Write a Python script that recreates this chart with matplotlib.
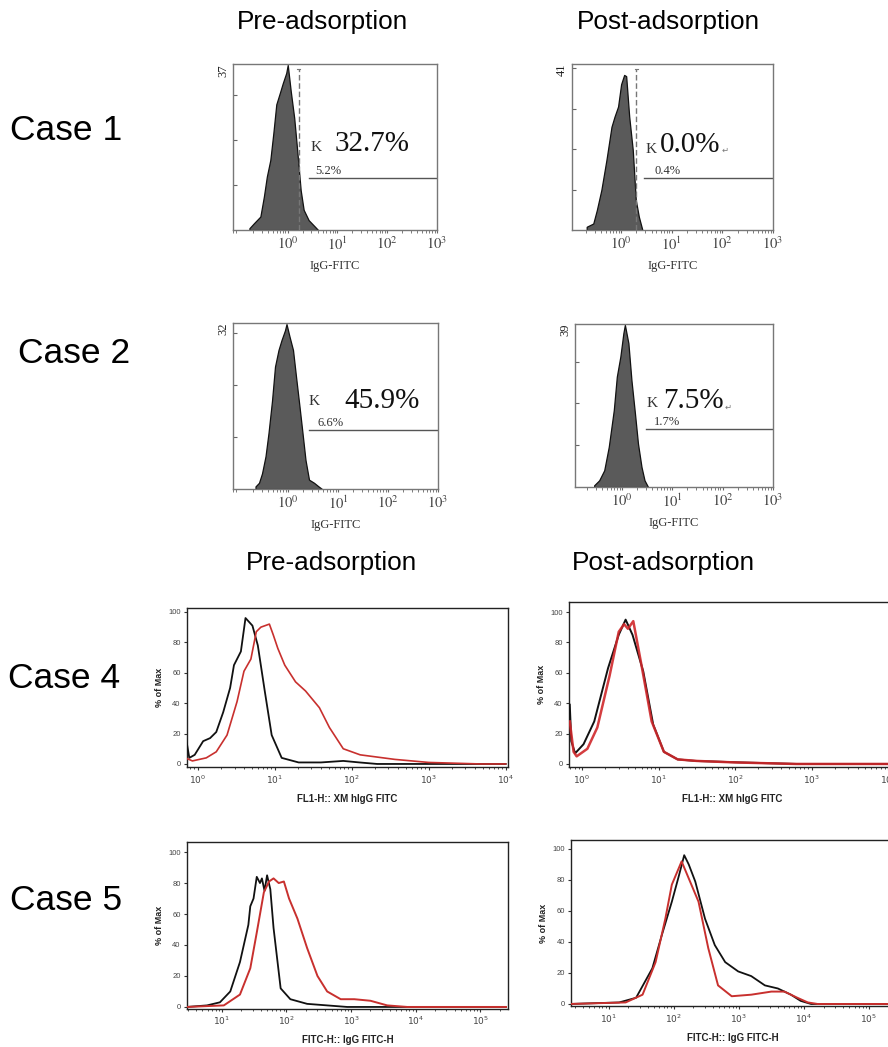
import numpy as np
import matplotlib
matplotlib.use("Agg")
import matplotlib.pyplot as plt
from matplotlib.ticker import LogLocator, NullFormatter

# ---------------- data ----------------
# Top histograms: log10(fluorescence) vs counts
c1_pre_logx = [-0.77, -0.68, -0.55, -0.48, -0.42, -0.35, -0.29, -0.23, -0.16, -0.10, -0.03, 0.00, 0.06, 0.13, 0.19, 0.26, 0.32, 0.42, 0.55, 0.61]
c1_pre_cnt = [0.4, 1.5, 3.0, 7.4, 11.9, 15.6, 21.5, 28.0, 30.5, 32.7, 35.0, 36.8, 31.0, 25.0, 17.8, 8.9, 4.5, 2.2, 0.7, 0.0]
c1_post_logx = [-0.68, -0.55, -0.48, -0.39, -0.29, -0.19, -0.13, -0.06, 0.00, 0.06, 0.10, 0.16, 0.23, 0.29, 0.35, 0.42]
c1_post_cnt = [0.8, 1.6, 4.9, 9.9, 17.3, 25.5, 28.0, 30.5, 36.0, 38.3, 38.0, 28.0, 19.8, 7.4, 3.3, 0.0]
c2_pre_logx = [-0.65, -0.58, -0.52, -0.45, -0.39, -0.32, -0.26, -0.19, -0.13, -0.06, -0.03, 0.03, 0.10, 0.16, 0.23, 0.29, 0.35, 0.42, 0.52, 0.61, 0.68]
c2_pre_cnt = [0.5, 1.2, 3.0, 6.3, 10.8, 17.0, 23.6, 26.8, 28.7, 30.6, 31.8, 29.4, 26.8, 21.7, 15.9, 10.8, 5.6, 1.8, 1.2, 0.5, 0.0]
c2_post_logx = [-0.55, -0.45, -0.35, -0.26, -0.16, -0.10, -0.03, 0.03, 0.06, 0.13, 0.19, 0.26, 0.32, 0.39, 0.45, 0.52]
c2_post_cnt = [0.4, 1.6, 4.0, 9.6, 18.4, 26.4, 31.2, 36.8, 38.8, 34.4, 25.6, 17.6, 10.4, 4.8, 1.6, 0.0]

top_ymax = [37, 41, 32, 39]
top_gate_logx = [0.22, 0.30, None, None]        # dashed cut-off line
top_bar_logx = [0.42, 0.45, 0.42, 0.48]         # start of marker bar
top_bar_y = [11.7, 12.9, 11.4, 13.8]
top_small_pct = ["5.2%", "0.4%", "6.6%", "1.7%"]
top_big_pct = ["32.7%", "0.0%", "45.9%", "7.5%"]

# Bottom overlay histograms (% of Max)
c4_pre_black_x = [-0.16, -0.11, -0.04, 0.07, 0.16, 0.24, 0.33, 0.42, 0.47, 0.56, 0.62, 0.71, 0.78, 0.87, 0.96, 1.09, 1.31, 1.60, 1.89, 2.10, 2.33, 4.0]
c4_pre_black_y = [19, 4, 6, 15, 17, 21, 34, 50, 65, 74, 96, 91, 78, 48, 19, 4, 1, 1, 2, 1, 0, 0]
c4_pre_red_x = [-0.16, -0.07, 0.11, 0.24, 0.38, 0.51, 0.60, 0.69, 0.76, 0.82, 0.93, 0.98, 1.04, 1.13, 1.27, 1.40, 1.58, 1.71, 1.89, 2.11, 2.56, 3.00, 3.67, 4.0]
c4_pre_red_y = [4, 2, 4, 8, 19, 41, 61, 69, 87, 90, 92, 85, 76, 65, 54, 48, 37, 24, 10, 6, 3, 1, 0, 0]
c4_post_black_x = [-0.16, -0.14, -0.09, 0.02, 0.16, 0.34, 0.48, 0.57, 0.66, 0.80, 0.93, 1.07, 1.25, 1.48, 2.07, 2.80, 4.1]
c4_post_black_y = [39, 15, 7, 13, 28, 63, 85, 95, 85, 61, 26, 8, 3, 2, 1, 0, 0]
c4_post_red_x = [-0.16, -0.11, -0.07, 0.07, 0.20, 0.36, 0.48, 0.55, 0.60, 0.67, 0.77, 0.91, 1.07, 1.25, 1.50, 2.00, 2.80, 4.1]
c4_post_red_y = [28, 8, 5, 10, 24, 58, 87, 92, 89, 94, 67, 28, 8, 3, 2, 1, 0, 0]
c5_pre_black_x = [0.46, 0.77, 0.97, 1.13, 1.28, 1.41, 1.44, 1.49, 1.54, 1.59, 1.62, 1.66, 1.70, 1.75, 1.80, 1.91, 2.06, 2.32, 2.63, 2.94, 5.4]
c5_pre_black_y = [0, 1, 3, 10, 29, 53, 65, 70, 84, 80, 83, 75, 85, 76, 51, 12, 5, 2, 1, 0, 0]
c5_pre_red_x = [0.46, 1.03, 1.28, 1.44, 1.54, 1.65, 1.73, 1.80, 1.88, 1.96, 2.04, 2.17, 2.32, 2.48, 2.63, 2.84, 3.05, 3.30, 3.56, 3.87, 5.4]
c5_pre_red_y = [0, 1, 8, 25, 48, 74, 81, 83, 80, 81, 70, 57, 38, 20, 10, 5, 5, 4, 1, 0, 0]
c5_post_black_x = [0.40, 1.16, 1.42, 1.67, 1.82, 1.97, 2.08, 2.16, 2.23, 2.33, 2.48, 2.63, 2.79, 2.99, 3.19, 3.40, 3.60, 3.80, 3.95, 4.11, 5.4]
c5_post_black_y = [0, 1, 4, 23, 45, 66, 83, 96, 90, 79, 55, 38, 27, 21, 18, 12, 10, 6, 2, 0, 0]
c5_post_red_x = [0.40, 1.26, 1.52, 1.72, 1.87, 1.97, 2.05, 2.12, 2.23, 2.38, 2.53, 2.68, 2.89, 3.19, 3.50, 3.70, 3.90, 4.06, 4.21, 5.4]
c5_post_red_y = [0, 1, 6, 27, 55, 77, 85, 92, 81, 66, 36, 12, 5, 6, 8, 8, 4, 1, 0, 0]

col_titles = ["Pre-adsorption", "Post-adsorption"]
row_labels = ["Case 1", "Case 2", "Case 4", "Case 5"]
bottom_xlabels = ["FL1-H:: XM hIgG FITC", "FITC-H:: IgG FITC-H"]
pct_ticks = [0, 20, 40, 60, 80, 100]

# ---------------- figure ----------------
W, H = 888, 1047
fig = plt.figure(figsize=(W / 100, H / 100), dpi=100)
SERIF = "Liberation Serif"
SANS = "Liberation Sans"


def add_ax(x0, y0, x1, y1):
    return fig.add_axes([x0 / W, 1 - y1 / H, (x1 - x0) / W, (y1 - y0) / H])


def ftext(x, y, s, **kw):
    fig.text(x / W, 1 - y / H, s, **kw)


# titles and row labels
for x, y, s in [(322, 22, col_titles[0]), (668, 22, col_titles[1]),
                (331, 563, col_titles[0]), (663, 563, col_titles[1])]:
    ftext(x, y, s, ha="center", va="center", fontsize=18.8, family=SANS)
for x, y, s in [(10, 130, row_labels[0]), (18, 353, row_labels[1]),
                (8, 678, row_labels[2]), (10, 900, row_labels[3])]:
    ftext(x, y, s, ha="left", va="center", fontsize=25.5, family=SANS)

# ---------------- top panels ----------------
top_boxes = [(233, 64, 437, 230), (572, 64, 773, 230), (233, 323, 438, 489), (575, 324, 773, 487)]
top_xlims = [(-1.1, 3.0), (-0.97, 3.0), (-1.1, 3.0), (-0.93, 3.0)]
top_hist = [(c1_pre_logx, c1_pre_cnt), (c1_post_logx, c1_post_cnt),
            (c2_pre_logx, c2_pre_cnt), (c2_post_logx, c2_post_cnt)]
k_pos = [(0.45, 17.5), (0.48, 19.0), (0.42, 16.2), (0.48, 19.2)]
big_pos = [(0.94, 17.5), (0.77, 19.3), (1.13, 15.6), (0.81, 18.8)]
small_pos = [0.55, 0.65, 0.58, 0.645]

for i in range(4):
    ax = add_ax(*top_boxes[i])
    lx, cnt = top_hist[i]
    xs = 10 ** np.array(lx)
    ax.fill_between(xs, cnt, 0, color="#5a5a5a", edgecolor="#111111", lw=0.9, zorder=2)
    ax.set_xscale("log")
    ax.set_xlim(10 ** top_xlims[i][0], 10 ** top_xlims[i][1])
    ymax = top_ymax[i]
    ax.set_ylim(0, ymax)
    ax.set_yticks(list(range(10, ymax, 10)))
    ax.set_yticklabels([])
    ax.tick_params(axis="y", direction="in", length=3, color="#666666", width=0.8)
    ax.set_xticks([1, 10, 100, 1000])
    labs = ax.set_xticklabels(["$10^{0}$", "$10^{1}$", "$10^{2}$", "$10^{3}$"],
                              fontsize=10.5, color="#444444")
    for lb in labs:
        lb.set_math_fontfamily("stix")
    ax.xaxis.set_minor_locator(LogLocator(base=10, subs=np.arange(2, 10)))
    ax.xaxis.set_minor_formatter(NullFormatter())
    ax.tick_params(axis="x", which="both", direction="out", length=2, color="#666666", pad=2)
    for sp in ax.spines.values():
        sp.set_color("#777777")
        sp.set_linewidth(1.0)
    ax.text(-0.02, 1.0, str(ymax), transform=ax.transAxes, rotation=90,
            ha="right", va="top", fontsize=9, family=SERIF, color="#222222")
    ax.set_xlabel("IgG-FITC", fontsize=9, family=SERIF, color="#333333", labelpad=5)
    if top_gate_logx[i] is not None:
        g = 10 ** top_gate_logx[i]
        ax.plot([g, g], [0, ymax * 0.97], ls=(0, (4, 2)), color="#777777", lw=1.0, zorder=3)
        ax.plot([g * 0.93, g * 1.07], [ymax * 0.97, ymax * 0.97], color="#777777", lw=0.8)
    xb = 10 ** top_bar_logx[i]
    ax.plot([xb, 10 ** top_xlims[i][1]], [top_bar_y[i], top_bar_y[i]], color="#555555", lw=1.0)
    ax.text(10 ** small_pos[i], top_bar_y[i] + 0.2, top_small_pct[i], fontsize=9,
            family=SERIF, color="#333333", ha="left", va="bottom")
    ax.text(10 ** k_pos[i][0], k_pos[i][1], "K", fontsize=11, family=SERIF,
            color="#333333", ha="left", va="baseline")
    t = ax.text(10 ** big_pos[i][0], big_pos[i][1], top_big_pct[i], fontsize=21,
                family=SERIF, color="#111111", ha="left", va="baseline")
    if i in (1, 3):
        ax.annotate("\u21b5", xy=(1, 0), xycoords=t, xytext=(1, 2), textcoords="offset points",
                    fontsize=6, color="#777777", ha="left", va="bottom", family="DejaVu Sans")

# ---------------- bottom panels ----------------
bot_boxes = [(187, 608, 508, 767), (569, 602, 895, 767), (187, 842, 508, 1008.5), (571, 840, 895, 1006)]
bot_xlims = [(-0.14, 4.03), (-0.17, 4.09), (0.46, 5.43), (0.42, 5.40)]
bot_ylims = [(-2, 102.6), (-2, 106.6), (-1, 106.5), (-1.3, 105.8)]
bot_curves = [
    [(c4_pre_black_x, c4_pre_black_y), (c4_pre_red_x, c4_pre_red_y)],
    [(c4_post_black_x, c4_post_black_y), (c4_post_red_x, c4_post_red_y)],
    [(c5_pre_black_x, c5_pre_black_y), (c5_pre_red_x, c5_pre_red_y)],
    [(c5_post_black_x, c5_post_black_y), (c5_post_red_x, c5_post_red_y)],
]
bot_xl = [bottom_xlabels[0], bottom_xlabels[0], bottom_xlabels[1], bottom_xlabels[1]]
bot_decades = [range(0, 5), range(0, 5), range(1, 6), range(1, 6)]
red_lw = [1.2, 1.8, 1.4, 1.4]

for i in range(4):
    ax = add_ax(*bot_boxes[i])
    (bx, by), (rx, ry) = bot_curves[i]
    if i == 1:
        ax.plot(10 ** np.array(bx), by, color="#111111", lw=1.4, zorder=3)
        ax.plot(10 ** np.array(rx), ry, color="#d0282b", lw=red_lw[i], zorder=4, alpha=0.9)
    else:
        ax.plot(10 ** np.array(bx), by, color="#111111", lw=1.3, zorder=3)
        ax.plot(10 ** np.array(rx), ry, color="#c8302e", lw=red_lw[i], zorder=4)
    ax.set_xscale("log")
    ax.set_xlim(10 ** bot_xlims[i][0], 10 ** bot_xlims[i][1])
    ax.set_ylim(*bot_ylims[i])
    ax.set_yticks(pct_ticks)
    ax.set_yticklabels([str(v) for v in pct_ticks], fontsize=5.5, family=SANS, color="#444444")
    dec = list(bot_decades[i])
    ax.set_xticks([10.0 ** d for d in dec])
    ax.set_xticklabels(["$10^{%d}$" % d for d in dec], fontsize=6.5, color="#444444")
    ax.xaxis.set_minor_locator(LogLocator(base=10, subs=np.arange(2, 10)))
    ax.xaxis.set_minor_formatter(NullFormatter())
    ax.tick_params(axis="both", which="major", direction="out", length=2.5, width=0.8, pad=2, color="#333333")
    ax.tick_params(axis="x", which="minor", direction="out", length=1.5, width=0.6, color="#333333")
    for sp in ax.spines.values():
        sp.set_color("#222222")
        sp.set_linewidth(1.0)
    ax.set_ylabel("% of Max", fontsize=6.5, family=SANS, fontweight="bold", color="#222222", labelpad=3)
    ax.set_xlabel(bot_xl[i], fontsize=7, family=SANS, fontweight="bold", color="#222222", labelpad=6)

fig.savefig("out.png", dpi=100)
